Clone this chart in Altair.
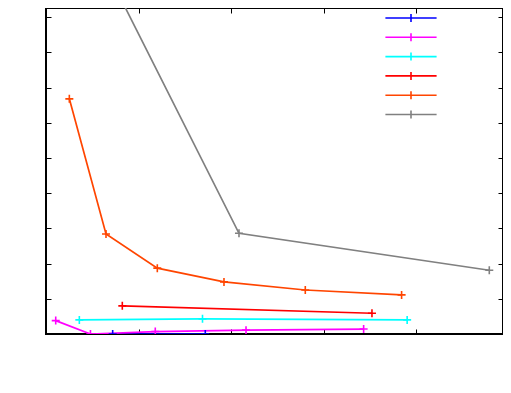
import altair as alt
import pandas as pd

# ---- data ----
series = ["s1", "s2", "s3", "s4", "s5", "s6"]
colors = ["#0000ff", "#ff00ff", "#00ffff", "#ff0000", "#ff4500", "#808080"]

blue_x = [0.72, 1.72]
blue_y = [0.0, 0.0]
magenta_x = [0.105, 0.48, 1.18, 2.16, 3.43]
magenta_y = [0.38, 0.0, 0.07, 0.11, 0.14]
cyan_x = [0.36, 1.69, 3.90]
cyan_y = [0.40, 0.43, 0.40]
red_x = [0.824, 3.52]
red_y = [0.80, 0.59]
orange_x = [0.252, 0.648, 1.202, 1.922, 2.80, 3.84]
orange_y = [6.68, 2.84, 1.87, 1.48, 1.25, 1.11]
gray_x = [0.5, 2.084, 4.787]
gray_y = [11.13, 2.86, 1.81]

x_ticks = [0, 1, 2, 3, 4]
y_ticks = [0, 1, 2, 3, 4, 5, 6, 7, 8, 9]

all_x = [blue_x, magenta_x, cyan_x, red_x, orange_x, gray_x]
all_y = [blue_y, magenta_y, cyan_y, red_y, orange_y, gray_y]

rows = []
for name, xs_, ys_ in zip(series, all_x, all_y):
    for i, (a, b) in enumerate(zip(xs_, ys_)):
        rows.append({"series": name, "x": a, "y": b, "order": i})
df = pd.DataFrame(rows)

PLUS = "M-1,0H1M0,-1V1"
LEG = "M-6.4,0H6.4M0,-1V1"

xscale = alt.Scale(domain=[0, 4.935], nice=False, zero=False)
yscale = alt.Scale(domain=[0, 9.26], nice=False, zero=False)
cscale = alt.Scale(domain=series, range=colors)

legend = alt.Legend(
    orient="none", legendX=360, legendY=5, title="", padding=0,
    symbolType=LEG, symbolSize=64, symbolStrokeWidth=1.6,
    symbolFillColor="transparent", labelExpr="''", rowPadding=3.3,
)

ax = dict(labels=False, domain=False, grid=False, tickSize=5,
          tickColor="black", tickWidth=1, offset=-5, title="")

base = alt.Chart(df)
lines = base.mark_line(strokeWidth=1.7, clip=True).encode(
    x=alt.X("x:Q", scale=xscale, axis=alt.Axis(orient="bottom", values=x_ticks, **ax)),
    y=alt.Y("y:Q", scale=yscale, axis=alt.Axis(orient="left", values=y_ticks, **ax)),
    color=alt.Color("series:N", scale=cscale, legend=legend),
    order="order:Q",
    detail="series:N",
)
points = base.mark_point(shape=PLUS, size=64, filled=False, strokeWidth=1.6,
                         clip=True, opacity=1).encode(
    x=alt.X("x:Q", scale=xscale, axis=alt.Axis(orient="top", values=x_ticks, **ax)),
    y=alt.Y("y:Q", scale=yscale, axis=alt.Axis(orient="right", values=y_ticks, **ax)),
    color=alt.Color("series:N", scale=cscale, legend=legend),
)

chart = (
    alt.layer(lines, points)
    .resolve_axis(x="independent", y="independent")
    .properties(width=457, height=326, autosize=alt.AutoSizeParams(type="none"),
                padding={"left": 38, "top": 0, "right": 0, "bottom": 40})
    .configure_view(stroke="black", strokeWidth=2)
)

chart.save("out.html", embed_options={"renderer": "svg", "actions": False})
